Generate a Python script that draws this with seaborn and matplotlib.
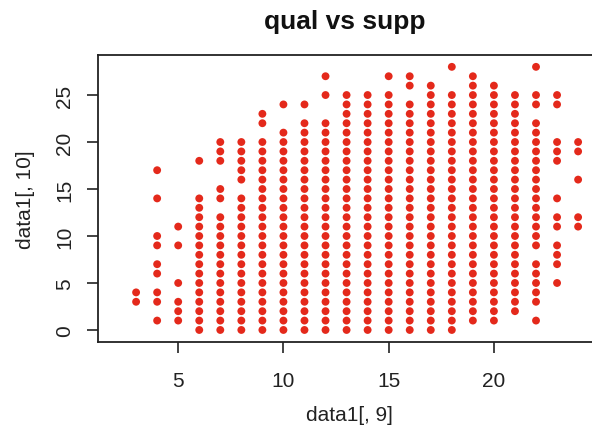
import matplotlib
matplotlib.use("Agg")
import matplotlib.pyplot as plt
import seaborn as sns
import pandas as pd

# y values (data1[, 10]) observed at each x value (data1[, 9])
x_values = [3, 4, 5, 6, 7, 8, 9, 10, 11, 12, 13, 14, 15, 16, 17, 18, 19, 20, 21, 22, 23, 24]
y_x3 = [3, 4]
y_x4 = [1, 3, 4, 6, 7, 9, 10, 14, 17]
y_x5 = [1, 2, 3, 5, 9, 11]
y_x6 = [0, 1, 2, 3, 4, 5, 6, 7, 8, 9, 10, 11, 12, 13, 14, 18]
y_x7 = [0, 1, 2, 3, 4, 5, 6, 7, 8, 9, 10, 11, 12, 14, 15, 18, 19, 20]
y_x8 = [0, 1, 2, 3, 4, 5, 6, 7, 8, 9, 10, 11, 12, 13, 14, 16, 17, 18, 19, 20]
y_x9 = [0, 1, 2, 3, 4, 5, 6, 7, 8, 9, 10, 11, 12, 13, 14, 15, 16, 17, 18, 19, 20, 22, 23]
y_x10 = [0, 1, 2, 3, 4, 5, 6, 7, 8, 9, 10, 11, 12, 13, 14, 15, 16, 17, 18, 19, 20, 21, 24]
y_x11 = [0, 1, 2, 3, 4, 5, 6, 7, 8, 9, 10, 11, 12, 13, 14, 15, 16, 17, 18, 19, 20, 21, 22, 24]
y_x12 = [0, 1, 2, 3, 4, 5, 6, 7, 8, 9, 10, 11, 12, 13, 14, 15, 16, 17, 18, 19, 20, 21, 22, 25, 27]
y_x13 = [0, 1, 2, 3, 4, 5, 6, 7, 8, 9, 10, 11, 12, 13, 14, 15, 16, 17, 18, 19, 20, 21, 22, 23, 24, 25]
y_x14 = [0, 1, 2, 3, 4, 5, 6, 7, 8, 9, 10, 11, 12, 13, 14, 15, 16, 17, 18, 19, 20, 21, 22, 23, 24, 25]
y_x15 = [0, 1, 2, 3, 4, 5, 6, 7, 8, 9, 10, 11, 12, 13, 14, 15, 16, 17, 18, 19, 20, 21, 22, 23, 24, 25, 27]
y_x16 = [0, 1, 2, 3, 4, 5, 6, 7, 8, 9, 10, 11, 12, 13, 14, 15, 16, 17, 18, 19, 20, 21, 22, 23, 24, 26, 27]
y_x17 = [0, 1, 2, 3, 4, 5, 6, 7, 8, 9, 10, 11, 12, 13, 14, 15, 16, 17, 18, 19, 20, 21, 22, 23, 24, 25, 26]
y_x18 = [0, 1, 2, 3, 4, 5, 6, 7, 8, 9, 10, 11, 12, 13, 14, 15, 16, 17, 18, 19, 20, 21, 22, 23, 24, 25, 28]
y_x19 = [1, 2, 3, 4, 5, 6, 7, 8, 9, 10, 11, 12, 13, 14, 15, 16, 17, 18, 19, 20, 21, 22, 23, 24, 25, 26, 27]
y_x20 = [1, 2, 3, 4, 5, 6, 7, 8, 9, 10, 11, 12, 13, 14, 15, 16, 17, 18, 19, 20, 21, 22, 23, 24, 25, 26]
y_x21 = [2, 3, 4, 5, 6, 7, 8, 9, 10, 11, 12, 13, 14, 15, 16, 17, 18, 19, 20, 21, 22, 23, 24, 25]
y_x22 = [1, 3, 4, 5, 6, 7, 9, 10, 11, 12, 13, 14, 15, 16, 17, 18, 19, 20, 21, 22, 24, 25, 28]
y_x23 = [5, 7, 8, 9, 11, 12, 14, 18, 19, 20, 24, 25]
y_x24 = [11, 12, 16, 19, 20]

y_columns = [y_x3, y_x4, y_x5, y_x6, y_x7, y_x8, y_x9, y_x10, y_x11, y_x12, y_x13,
             y_x14, y_x15, y_x16, y_x17, y_x18, y_x19, y_x20, y_x21, y_x22, y_x23, y_x24]

x_ticks = [5, 10, 15, 20]
y_ticks = [0, 5, 10, 15, 20, 25]

rows = []
for xv, ys in zip(x_values, y_columns):
    for yv in ys:
        rows.append((xv, yv))
df = pd.DataFrame(rows, columns=["supp", "qual"])

sns.set_style("white")
plt.rcParams['font.family'] = ['Liberation Sans', 'DejaVu Sans']

W, H = 592, 427
fig = plt.figure(figsize=(W / 100, H / 100), dpi=100)
fig.patch.set_facecolor("white")
left_px, right_px, top_px, bottom_px = 98, 600, 56, 343
ax = fig.add_axes([left_px / W, 1 - bottom_px / H,
                   (right_px - left_px) / W, (bottom_px - top_px) / H])

sns.scatterplot(data=df, x="supp", y="qual", ax=ax, color="#E4291B",
                s=32, linewidth=0, edgecolor="none", legend=False)

ax.set_xlim(1.19, 25.04)
ax.set_ylim(-1.28, 29.26)
ax.set_xticks(x_ticks)
ax.set_yticks(y_ticks)
ax.set_xticklabels([str(t) for t in x_ticks], fontsize=15)
ax.set_yticklabels([str(t) for t in y_ticks], fontsize=15, rotation=90, va="center")
ax.tick_params(axis="both", direction="out", length=8, width=1.2, color="#222222",
               labelcolor="#222222", bottom=True, left=True)
ax.tick_params(axis="x", pad=13)
ax.tick_params(axis="y", pad=9)
for sp in ax.spines.values():
    sp.set_visible(True)
    sp.set_color("#222222")
    sp.set_linewidth(1.3)

ax.set_xlabel("data1[, 9]", fontsize=15, color="#222222", labelpad=11)
ax.set_ylabel("data1[, 10]", fontsize=15, color="#222222", labelpad=15)

fig.text(345 / W, 1 - 22 / H, "qual vs supp", ha="center", va="center",
         fontsize=19, fontweight="bold", color="#111111")

fig.savefig("out.png", dpi=100)
